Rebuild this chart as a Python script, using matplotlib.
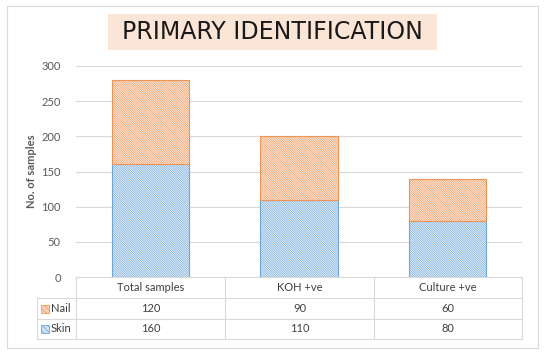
import matplotlib
matplotlib.use("Agg")
import matplotlib.pyplot as plt
from matplotlib.patches import Rectangle
from matplotlib.lines import Line2D

categories = ["Total samples", "KOH +ve", "Culture +ve"]
skin = [160, 110, 80]
nail = [120, 90, 60]
series_names = ["Nail", "Skin"]
yticks = [0, 50, 100, 150, 200, 250, 300]

plt.rcParams['font.family'] = ['Lato', 'DejaVu Sans']
plt.rcParams['hatch.linewidth'] = 0.5

W, H = 547, 354
fig = plt.figure(figsize=(W / 100, H / 100), dpi=100)

def fx(px):
    return px / W

def fy(py):
    return 1 - py / H

# outer border
fig.patches.append(Rectangle((fx(7), fy(348)), fx(538) - fx(7), fy(6) - fy(348),
                             transform=fig.transFigure, fill=False,
                             edgecolor='#d9d9d9', linewidth=0.8))

ax_left, ax_right, ax_top, ax_bottom = 76, 522, 66, 277
ax = fig.add_axes([fx(ax_left), fy(ax_bottom), fx(ax_right) - fx(ax_left), fy(ax_top) - fy(ax_bottom)])
x = list(range(len(categories)))
HATCH = '\\' * 15
ax.bar(x, skin, width=0.52, color='#f5f9fe', edgecolor='#6fa6da', hatch=HATCH,
       linewidth=0.8, zorder=3)
ax.bar(x, nail, bottom=skin, width=0.52, color='#fef5ef', edgecolor='#ef9457',
       hatch=HATCH, linewidth=0.8, zorder=3)
ax.set_xlim(-0.5, len(categories) - 0.5)
ax.set_ylim(0, 300)
ax.set_yticks(yticks)
ax.set_yticklabels([str(v) for v in yticks], fontsize=8, color='#595959')
ax.tick_params(axis='y', length=0, pad=11)
ax.set_xticks([])
for s in ax.spines.values():
    s.set_visible(False)
ax.grid(axis='y', color='#d9d9d9', linewidth=0.8, zorder=0)
ax.set_ylabel("No. of samples", fontsize=8, fontweight='bold', color='#595959', labelpad=3)

# title
fig.patches.append(Rectangle((fx(108), fy(50)), fx(437) - fx(108), fy(14) - fy(50),
                             transform=fig.transFigure, facecolor='#fbe5d6',
                             edgecolor='none'))
fig.text(fx(272), fy(32), "PRIMARY IDENTIFICATION", fontsize=17, color='#1a1a1a',
         ha='center', va='center', family=['DejaVu Sans'])

# data table
cols = [37, 76, 225, 374, 522]
rows = [277, 298, 319, 339]
lc = '#d9d9d9'
def hline(y, x0, x1):
    fig.lines.append(Line2D([fx(x0), fx(x1)], [fy(y), fy(y)], transform=fig.transFigure,
                            color=lc, linewidth=0.8))
def vline(xp, y0, y1):
    fig.lines.append(Line2D([fx(xp), fx(xp)], [fy(y0), fy(y1)], transform=fig.transFigure,
                            color=lc, linewidth=0.8))
hline(rows[0], cols[1], cols[-1])
for r in rows[1:]:
    hline(r, cols[0], cols[-1])
vline(cols[0], rows[1], rows[-1])
for c in cols[1:]:
    vline(c, rows[0], rows[-1])

tc = '#404040'
for i, cat in enumerate(categories):
    cx = (cols[i + 1] + cols[i + 2]) / 2
    fig.text(fx(cx), fy((rows[0] + rows[1]) / 2), cat, fontsize=8, color=tc,
             ha='center', va='center')
    fig.text(fx(cx), fy((rows[1] + rows[2]) / 2), str(nail[i]), fontsize=8, color=tc,
             ha='center', va='center')
    fig.text(fx(cx), fy((rows[2] + rows[3]) / 2), str(skin[i]), fontsize=8, color=tc,
             ha='center', va='center')

keys = [('#fbd2b8', '#ef9457'), ('#cfe2f5', '#6fa6da')]
for j, name in enumerate(series_names):
    cy = (rows[j + 1] + rows[j + 2]) / 2
    fc, ec = keys[j]
    fig.patches.append(Rectangle((fx(41), fy(cy + 4)), fx(8), 8 / H,
                                 transform=fig.transFigure, facecolor=fc, edgecolor=ec,
                                 hatch='\\' * 6, linewidth=0.6))
    fig.text(fx(50.5), fy(cy), name, fontsize=8, color=tc, ha='left', va='center')

fig.savefig("out.png", dpi=100)
